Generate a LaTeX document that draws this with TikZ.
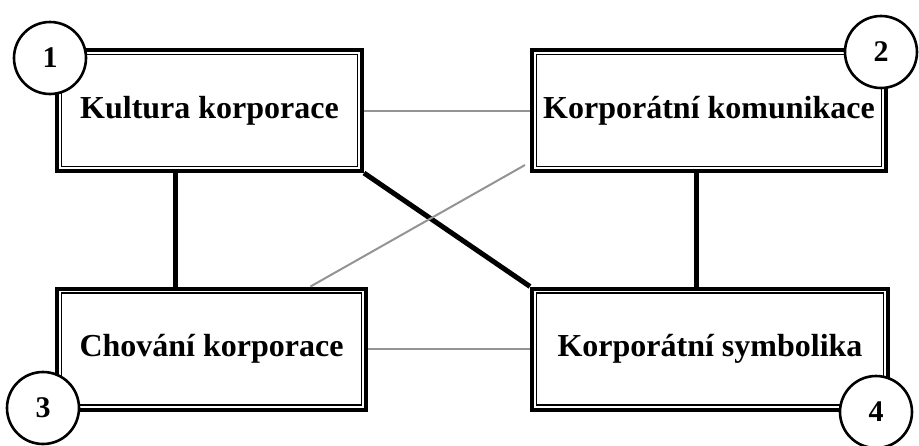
\documentclass[tikz,border=0pt]{standalone}
\usepackage{fontspec}
\setmainfont{Liberation Serif}
\usetikzlibrary{calc}
\tikzset{
  box/.style={draw, line width=4pt, minimum width=#1, minimum height=121pt, inner sep=0pt,
    font=\fontsize{32}{38}\selectfont\bfseries,
    path picture={\draw[line width=1.6pt] ([shift={(4.4pt,4.4pt)}]path picture bounding box.south west)
      rectangle ([shift={(-4.4pt,-4.4pt)}]path picture bounding box.north east);}},
  num/.style={circle, draw, line width=2.6pt, fill=white, minimum size=72pt, inner sep=0pt,
    font=\fontsize{30}{36}\selectfont\bfseries},
  soft link/.style={draw=black!42, line width=2pt},
  hard link/.style={draw=black, line width=5pt},
}
\begin{document}
\begin{tikzpicture}[x=1pt, y=-1pt]
            \useasboundingbox (0, 0) rectangle (919, 445);
            \node[box=305pt] (kultura) at (209.5, 110.5) {Kultura korporace};
            \node[box=354pt] (komunikace) at (709, 110.5) {Korporátní komunikace};
            \node[box=309pt] (chovani) at (211.5, 349) {Chování korporace};
            \node[box=356pt] (symbolika) at (710, 349) {Korporátní symbolika};
            \coordinate (l1) at ($(kultura.south)+(-34, 0)$);
            \coordinate (l2) at ($(komunikace.south)+(-13, 0)$);
            \draw[hard link] (l1) -- (l1 |- chovani.north);
            \draw[hard link] (l2) -- (l2 |- symbolika.north);
            \draw[hard link] (kultura.south east) -- (symbolika.north west);
            \draw[soft link] (kultura.east) -- (komunikace.west);
            \draw[soft link] (chovani.east) -- (symbolika.west);
            \draw[soft link] ($(komunikace.south west)+(-5, -8)$) -- ($(chovani.north)+(99, 0)$);
            \node[num] (c1) at (50, 58) {1};
            \node[num] (c2) at (881, 52) {2};
            \node[num] (c3) at (43, 408) {3};
            \node[num] (c4) at (876, 412) {4};
\end{tikzpicture}
\end{document}
